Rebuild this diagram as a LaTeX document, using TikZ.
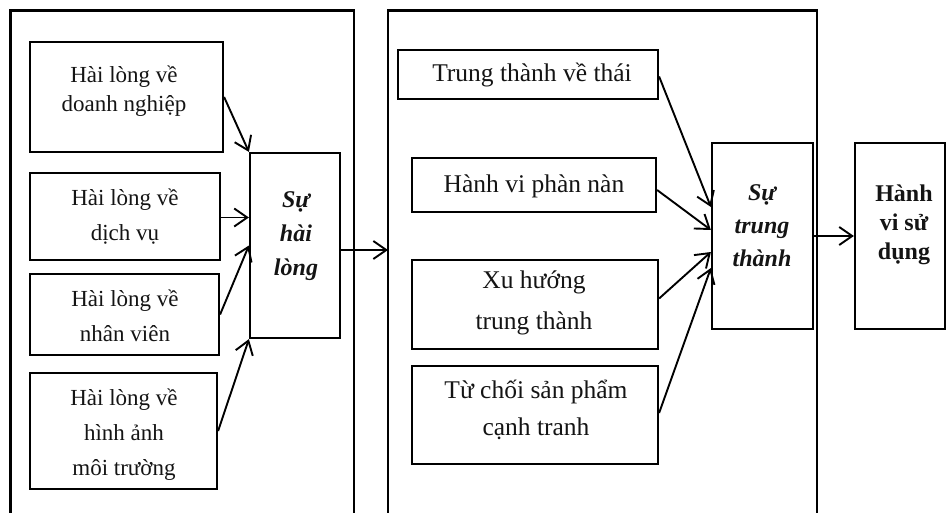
\documentclass[tikz,border=0pt]{standalone}
\usepackage{fontspec}
\setmainfont{Liberation Serif}
\usetikzlibrary{arrows.meta,calc}
\begin{document}
\begin{tikzpicture}[x=1pt,y=-1pt,
  box/.style={draw, line width=2.2pt, inner sep=0pt},
  frameline/.style={line width=2.2pt},
  link/.style={line width=1.9pt, -{Straight Barb[length=13pt,width=18pt,line width=1.9pt]}},
  lbl/.style={align=center, anchor=base, inner sep=0pt, text=black!92},
  plainA/.style={lbl, font=\fontsize{23}{#1}\selectfont},
  plainB/.style={lbl, font=\fontsize{25.5}{#1}\selectfont},
  emph/.style={lbl, font=\fontsize{24}{#1}\selectfont\bfseries\itshape},
  strong/.style={lbl, font=\fontsize{24}{#1}\selectfont\bfseries}
]
\clip (0,0) rectangle (946,512);
\useasboundingbox (0,0) rectangle (946,512);

% two open frames running off the bottom edge
\draw[frameline] (10.5,520) -- (10.5,10.5) -- (354,10.5) -- (354,520);
\draw[frameline] (388,520) -- (388,10.5) -- (817,10.5) -- (817,520);
\coordinate (f2in) at (388,250);

% satisfaction components
\node[box, minimum width=193pt, minimum height=110pt] (b1) at (126.5,97) {};
\node[box, minimum width=190pt, minimum height=87pt]  (b2) at (125,216.5) {};
\node[box, minimum width=189pt, minimum height=81pt]  (b3) at (124.5,314.5) {};
\node[box, minimum width=187pt, minimum height=116pt] (b4) at (123.5,431) {};
\node[box, minimum width=90pt,  minimum height=185pt] (hl) at (295,245.5) {};

% multi-line labels are placed by the baseline of their last line
\node[plainA=29] (b1t) at (124,111)   {Hài lòng về\\doanh nghiệp};
\node[plainA=35] (b2t) at (125,240)   {Hài lòng về\\dịch vụ};
\node[plainA=35] (b3t) at (125,341.7) {Hài lòng về\\nhân viên};
\node[plainA=35] (b4t) at (124,475)   {Hài lòng về\\hình ảnh\\môi trường};
\node[emph=34]   (hlt) at (296,275)   {Sự\\hài\\lòng};

% loyalty components
\node[box, minimum width=260pt, minimum height=49pt] (t1) at (528,74.5) {};
\node[box, minimum width=244pt, minimum height=54pt] (t2) at (534,185) {};
\node[box, minimum width=246pt, minimum height=89pt] (t3) at (535,304.5) {};
\node[box, minimum width=246pt, minimum height=98pt] (t4) at (535,415) {};
\node[box, minimum width=101pt, minimum height=186pt] (st) at (762.5,236) {};
\node[box, minimum width=90pt,  minimum height=186pt] (hv) at (900,236) {};

\node[plainB=30] (t1t) at (532,81.7) {Trung thành về thái};
\node[plainB=30] (t2t) at (534,192)  {Hành vi phàn nàn};
\node[plainB=41] (t3t) at (534,329)  {Xu hướng\\trung thành};
\node[plainB=37] (t4t) at (536,435)  {Từ chối sản phẩm\\cạnh tranh};
\node[emph=33]   (stt) at (762,266.7) {Sự\\trung\\thành};
\node[strong=29] (hvt) at (904,259)  {Hành\\vi sử\\dụng};

% connectors
\draw[link] (b1.east) -- (hl.north west);
\draw[link] ([yshift=-1pt]b2.east) -- ([yshift=-1pt]b2.east -| hl.west);
\draw[link] (b3.east) -- (hl.west);
\draw[link] (b4.east) -- (hl.south west);
\draw[link] (hl.east |- f2in) -- (f2in);

\draw[link] ([yshift=-2pt]t1.east) -- ([yshift=29pt]st.west);
\draw[link] ([yshift=-5pt]t2.east) -- ([yshift=6pt]st.west);
\draw[link] ([yshift=6pt]t3.east) -- ([yshift=-16pt]st.west);
\draw[link] ([yshift=2pt]t4.east) -- ([yshift=-32pt]st.west);
\draw[link] (st.east) -- (hv.west);
\end{tikzpicture}
\end{document}
